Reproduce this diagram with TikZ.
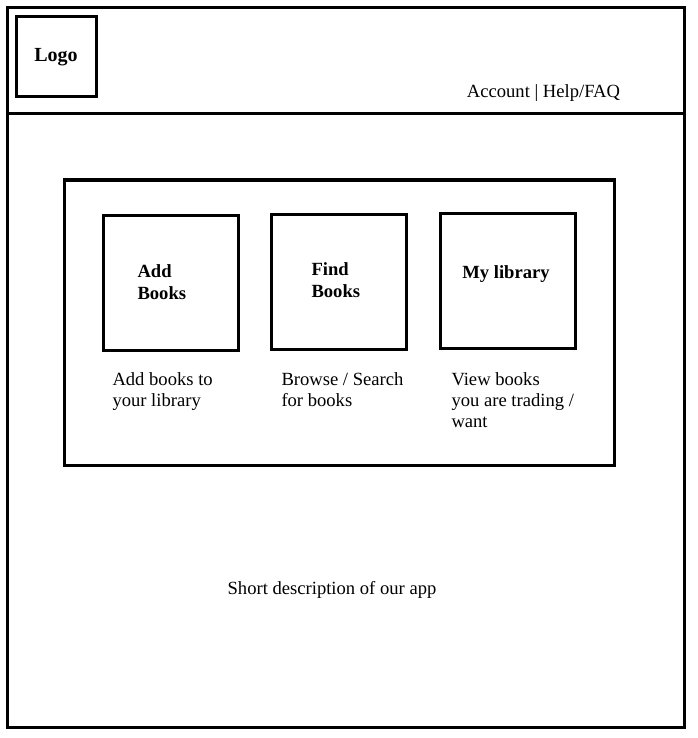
\documentclass[tikz,border=0pt]{standalone}
\usepackage{fontspec}
\setmainfont{Liberation Serif}
\usetikzlibrary{positioning}

\begin{document}
\begin{tikzpicture}[x=1pt, y=-1pt, line width=3pt,
    every node/.style={font=\fontsize{18.6}{21}\selectfont, inner sep=0pt},
    box/.style={draw, anchor=north west, outer sep=0pt},
    tile/.style={box, minimum width=135pt, minimum height=135pt},
    tiletitle/.style={font=\bfseries\fontsize{18.6}{22}\selectfont, align=left},
    caption/.style={align=left, anchor=west}]
  \useasboundingbox (0,0) rectangle (697,738);

  % --- Pagina en kop ---
  \node[box, minimum width=677pt, minimum height=719pt] (page) at (7,8) {};
  \coordinate (headleft) at (7,114);
  \coordinate (headright) at (684,114);
  \draw (headleft) -- (headright);

  \node[box, minimum width=80pt, minimum height=80pt,
    font=\bfseries\fontsize{20}{24}\selectfont] (logo) at (16,17) {Logo};
  \node (links) at (543.5,93) {Account | Help/FAQ};

  % --- Paneel met de drie tegels ---
  \node[box, minimum width=550pt, minimum height=285pt] (panel) at (64,180) {};

  % Formaat: naam / x / y
  \foreach \name/\x/\y in {add/103/215, find/271/214, lib/440/213}
    \node[tile] (\name) at (\x,\y) {};

  \node[tiletitle, anchor=west] (addtitle) at (136,282) {Add\\Books};
  \node[tiletitle, anchor=west] (findtitle) at (310,280) {Find\\Books};
  \node[tiletitle] (libtitle) at (506,274.5) {My library};

  % Onderschriften
  \node[caption] (addtext) at (111,391.5) {Add books to\\your library};
  \node[caption] (findtext) at (280,389.5) {Browse / Search\\for books};
  \node[caption] (libtext) at (450,400) {View books\\you are trading /\\want};

  % --- Beschrijving ---
  \node (about) at (332,590) {Short description of our app};
\end{tikzpicture}
\end{document}
